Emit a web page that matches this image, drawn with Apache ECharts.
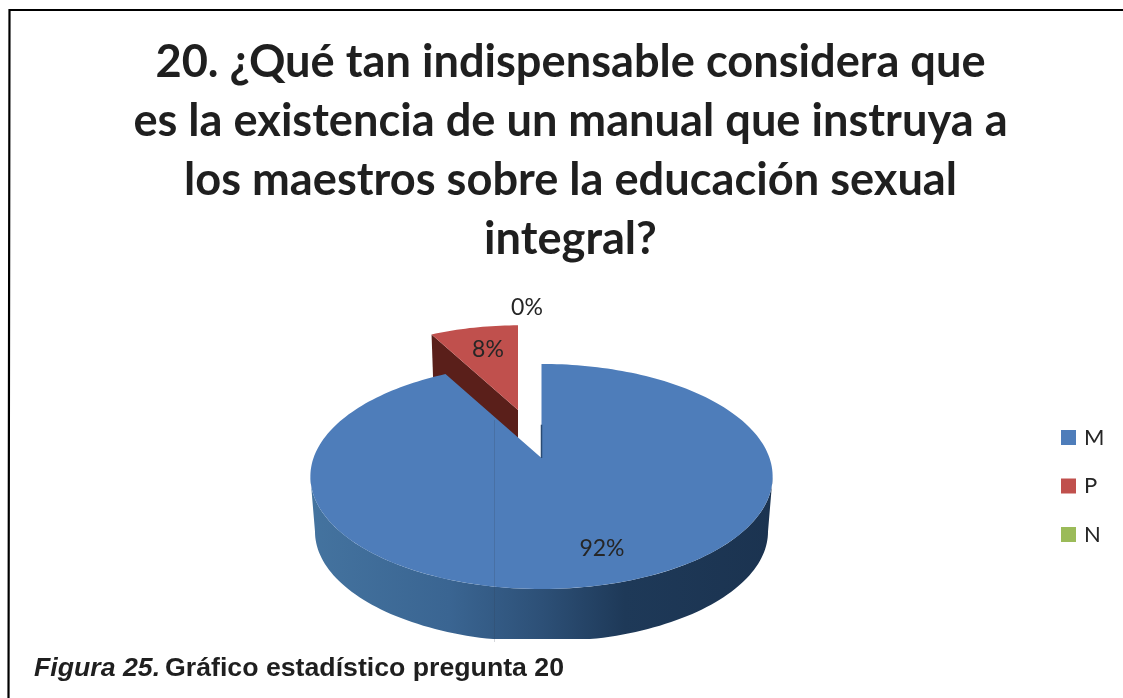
<!DOCTYPE html>
<html>
<head>
<meta charset="utf-8">
<style>
  html, body { margin: 0; padding: 0; background: #fff; }
  #chart { width: 1123px; height: 698px; }
</style>
<script src="https://cdn.jsdelivr.net/npm/echarts@6/dist/echarts.min.js"></script>
</head>
<body>
<div id="chart"></div>
<script>
const titleLines = [
    '20. ¿Qué tan indispensable considera que',
    'es la existencia de un manual que instruya a',
    'los maestros sobre la educación sexual',
    'integral?'
];
const categories = ['M', 'P', 'N'];
const values = [92, 8, 0];
const colors = ['#4e7dba', '#c0504d', '#9bbb59'];

// pie projection, a flat circle seen with some perspective
const K = 0.164;
const RX = 228;
const RY = 109.5;
const DEPTH_SCALE = 0.98;
const CLIP_BOTTOM = 639;

const sliceGeom = [
    {apexX: 541.5, apexY: 458, scale: 1, depth: 55.5, labelX: 602, labelY: 549},
    {apexX: 518, apexY: 410, scale: 0.9, depth: 48, labelX: 488, labelY: 350},
    {apexX: 518, apexY: 410, scale: 0.9, depth: 48, labelX: 527, labelY: 308}
];

const total = values.reduce((a, b) => a + b, 0);

// angles run clockwise from 12 o'clock, the first slice starts there
function sliceAngles(index) {
    let start = 0;
    for (let i = 0; i < index; i++) {
        start += values[i] / total * 360;
    }
    return [start, start + values[index] / total * 360];
}

function project(g, deg, r, bottom) {
    const a = deg * Math.PI / 180;
    const u = Math.sin(a) * r;
    const v = Math.cos(a) * r;
    const w = 1 + K * v;
    const s = g.scale * (bottom ? DEPTH_SCALE : 1);
    const y = g.apexY + (bottom ? g.depth : 0) - RY * s * v / w;
    return [g.apexX + RX * s * u / w, Math.min(y, CLIP_BOTTOM)];
}

function arcPoints(g, from, to, bottom) {
    const pts = [];
    const steps = Math.max(2, Math.ceil(Math.abs(to - from) / 1.5));
    for (let i = 0; i <= steps; i++) {
        pts.push(project(g, from + (to - from) * i / steps, 1, bottom));
    }
    return pts;
}

function labelText(index) {
    return {
        type: 'text',
        z2: 20,
        style: {
            x: sliceGeom[index].labelX,
            y: sliceGeom[index].labelY,
            text: Math.round(values[index] / total * 100) + '%',
            fill: '#262626',
            font: '23px Lato',
            align: 'center',
            verticalAlign: 'middle'
        }
    };
}

function renderSlice(params, api) {
    const index = params.seriesIndex;
    const g = sliceGeom[index];
    const angles = sliceAngles(index);
    const children = [];

    if (index === 0) {
        // outer wall of the big slice, between the widest points of the rim
        const widest = Math.acos(-K) * 180 / Math.PI;
        const rimTop = arcPoints(g, widest, 360 - widest, false);
        const rimBottom = arcPoints(g, 360 - widest, widest, true);
        children.push({
            type: 'polygon',
            z2: 1,
            shape: {points: rimTop.concat(rimBottom)},
            style: {
                fill: {
                    type: 'linear', x: 0, y: 0, x2: 1, y2: 0,
                    colorStops: [
                        {offset: 0, color: '#44739f'},
                        {offset: 0.3, color: '#3a6592'},
                        {offset: 0.5, color: '#2d5077'},
                        {offset: 0.68, color: '#1e3958'},
                        {offset: 1, color: '#1b3350'}
                    ]
                }
            }
        });
    }

    if (values[index] > 0) {
        const apex = project(g, angles[0], 0, false);
        if (index === 1) {
            // cut face of the pulled out slice, the big slice covers its foot
            const edge = project(g, angles[0], 1, false);
            const edgeLow = project(g, angles[0], 1, true);
            const apexLow = project(g, angles[0], 0, true);
            children.push({
                type: 'polygon',
                shape: {points: [edge, apex, apexLow, edgeLow]},
                style: {fill: '#5a1f1a'}
            });
        }
        children.push({
            type: 'polygon',
            z2: 5,
            shape: {points: [apex].concat(arcPoints(g, angles[0], angles[1], false))},
            style: {fill: colors[index]}
        });
        if (index === 0) {
            children.push({
                type: 'line',
                z2: 6,
                shape: {
                    x1: apex[0], y1: apex[1],
                    x2: project(g, 0, 0.32, false)[0], y2: project(g, 0, 0.32, false)[1]
                },
                style: {stroke: '#2a4b73', lineWidth: 1.5}
            });
        }
    }
    children.push(labelText(index));
    return {type: 'group', children: children};
}

const chartDom = document.getElementById('chart');
const myChart = echarts.init(chartDom);

// red goes first so the big slice paints over its foot
const drawOrder = [1, 2, 0];

const option = {
    animation: false,
    backgroundColor: '#ffffff',
    title: [
        {
            text: titleLines.join('\n'),
            left: 565.5,
            top: 28,
            textAlign: 'center',
            textStyle: {
                fontFamily: 'Lato',
                fontWeight: 'bold',
                fontSize: 45.2,
                lineHeight: 59,
                color: '#1f1f1f'
            }
        },
        {
            text: '{i|Figura 25.} {b|Gráfico estadístico pregunta 20}',
            left: 29,
            top: 650,
            textStyle: {
                rich: {
                    i: {fontFamily: 'Liberation Sans', fontWeight: 'bold', fontStyle: 'italic', fontSize: 26.7, color: '#1f1f1f'},
                    b: {fontFamily: 'Liberation Sans', fontWeight: 'bold', fontSize: 26.7, color: '#1f1f1f'}
                }
            }
        }
    ],
    legend: {
        data: categories,
        orient: 'vertical',
        left: 1056,
        top: 421.5,
        icon: 'rect',
        itemWidth: 15,
        itemHeight: 15,
        itemGap: 26.5,
        selectedMode: false,
        textStyle: {fontFamily: 'Lato', fontSize: 22, color: '#262626', padding: [0, 0, 0, 3]}
    },
    graphic: [
        {
            type: 'polyline',
            z: 100,
            shape: {points: [[8.5, 698], [9.5, 10], [1123, 10]]},
            style: {stroke: '#000', lineWidth: 2.2, fill: null}
        },
        {
            // thin scan line crossing the pie in the source picture
            type: 'line',
            z: 100,
            shape: {x1: 494.5, y1: 420, x2: 494.5, y2: 642},
            style: {stroke: 'rgba(50,60,80,0.2)', lineWidth: 1}
        }
    ],
    series: categories.map((name, i) => ({
        type: 'custom',
        name: name,
        coordinateSystem: 'none',
        z: 2 + drawOrder.indexOf(i),
        silent: true,
        itemStyle: {color: colors[i]},
        data: [values[i]],
        renderItem: renderSlice
    }))
};

option && myChart.setOption(option);
</script>
</body>
</html>
